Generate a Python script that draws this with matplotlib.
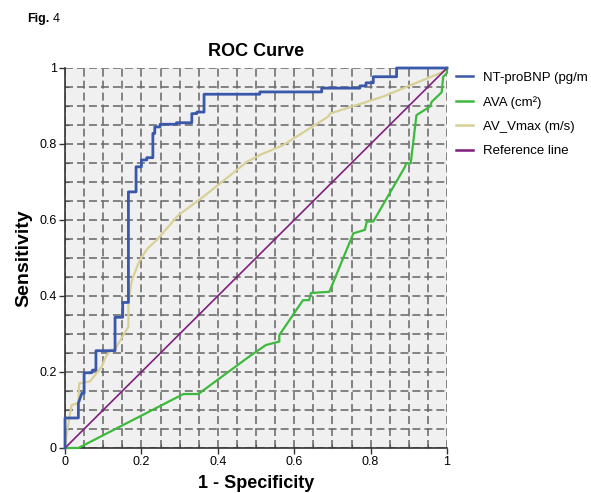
import matplotlib
matplotlib.use("Agg")
import matplotlib.pyplot as plt
import numpy as np

plt.rcParams['font.family'] = ['Liberation Sans', 'DejaVu Sans']

# NT-proBNP step curve
bnp_x = [0, 0, 0.035, 0.035, 0.044, 0.05, 0.05, 0.07, 0.072, 0.081, 0.081, 0.131, 0.131, 0.151, 0.151, 0.166, 0.166,
         0.186, 0.186, 0.2, 0.2, 0.214, 0.214, 0.23, 0.23, 0.235, 0.235, 0.249, 0.249, 0.292, 0.292, 0.332, 0.332,
         0.345, 0.345, 0.364, 0.364, 0.51, 0.51, 0.672, 0.672, 0.772, 0.772, 0.788, 0.788, 0.807, 0.807, 0.868, 0.868, 1.0]
bnp_y = [0, 0.079, 0.079, 0.118, 0.144, 0.144, 0.198, 0.198, 0.205, 0.205, 0.256, 0.256, 0.344, 0.344, 0.383, 0.383, 0.674,
         0.674, 0.74, 0.74, 0.758, 0.758, 0.764, 0.764, 0.828, 0.828, 0.845, 0.845, 0.852, 0.852, 0.856, 0.856, 0.88,
         0.88, 0.884, 0.884, 0.931, 0.931, 0.937, 0.937, 0.947, 0.947, 0.953, 0.953, 0.961, 0.961, 0.977, 0.977, 1.0, 1.0]

# AVA curve
ava_x = [0, 0.035, 0.31, 0.349, 0.484, 0.526, 0.561, 0.561, 0.623, 0.639, 0.644, 0.692, 0.737, 0.755, 0.785, 0.79,
         0.807, 0.89, 0.893, 0.905, 0.92, 0.955, 0.96, 0.986, 0.99, 1.0, 1.0]
ava_y = [0, 0, 0.142, 0.142, 0.242, 0.271, 0.28, 0.297, 0.389, 0.389, 0.408, 0.411, 0.521, 0.565, 0.574, 0.596,
         0.596, 0.74, 0.749, 0.749, 0.876, 0.898, 0.911, 0.936, 0.977, 0.987, 1.0]

# AV_Vmax curve
vmax_x = [0, 0.004, 0.017, 0.035, 0.037, 0.065, 0.096, 0.105, 0.118, 0.131, 0.148, 0.166, 0.166, 0.175, 0.196,
          0.216, 0.24, 0.297, 0.362, 0.423, 0.476, 0.51, 0.571, 0.689, 0.694, 0.833, 0.99, 1.0]
vmax_y = [0, 0.034, 0.113, 0.118, 0.17, 0.175, 0.214, 0.236, 0.258, 0.26, 0.289, 0.319, 0.385, 0.442, 0.495,
          0.525, 0.547, 0.613, 0.661, 0.71, 0.753, 0.771, 0.797, 0.872, 0.88, 0.925, 0.99, 1.0]

ref_x = [0, 1]
ref_y = [0, 1]

labels = ["NT-proBNP (pg/m", "AVA (cm\u00b2)", "AV_Vmax (m/s)", "Reference line"]
colors = ["#3a58aa", "#3dba3d", "#d8d096", "#7e1f7e"]

fig = plt.figure(figsize=(5.91, 4.93), dpi=100)
ax = fig.add_axes([65/591, 45/493, 382/591, 380/493])
ax.set_facecolor("#f0f0f0")

ax.set_xlim(0, 1)
ax.set_ylim(0, 1)
ticks = [0, 0.2, 0.4, 0.6, 0.8, 1.0]
ticklabels = ["0", "0.2", "0.4", "0.6", "0.8", "1"]
ax.set_xticks(ticks)
ax.set_xticklabels(ticklabels)
ax.set_yticks(ticks)
ax.set_yticklabels(ticklabels)
ax.set_xticks(np.arange(0, 1.0001, 0.05), minor=True)
ax.set_yticks(np.arange(0, 1.0001, 0.05), minor=True)
ax.grid(True, which='both', color='#6a6a6a', linestyle=(0, (5, 2.5)), linewidth=1.15)
ax.set_axisbelow(True)
ax.tick_params(which='major', direction='out', length=4, width=1, color='#333333', labelsize=9, pad=2)
ax.tick_params(which='minor', direction='in', length=3, width=0.8, color='#555555')

for s in ['top', 'right']:
    ax.spines[s].set_visible(False)
for s in ['left', 'bottom']:
    ax.spines[s].set_color('#333333')
    ax.spines[s].set_linewidth(1.2)

l1, = ax.plot(bnp_x, bnp_y, color=colors[0], lw=2.0, clip_on=False, zorder=5)
l2, = ax.plot(ava_x, ava_y, color=colors[1], lw=1.6, clip_on=False, zorder=4)
l3, = ax.plot(vmax_x, vmax_y, color=colors[2], lw=1.6, clip_on=False, zorder=3)
l4, = ax.plot(ref_x, ref_y, color=colors[3], lw=1.2, clip_on=False, zorder=4)

leg = ax.legend([l1, l2, l3, l4], labels, loc='upper left', bbox_to_anchor=(1.0, 1.015),
                frameon=False, fontsize=9.5, handlelength=1.3, handletextpad=0.7,
                labelspacing=0.92, borderaxespad=0.3)
for h in leg.legend_handles:
    h.set_linewidth(1.8)

ax.set_title("ROC Curve", fontsize=13, fontweight='bold', pad=9)
ax.set_xlabel("1 - Specificity", fontsize=13, fontweight='bold', labelpad=5)
ax.set_ylabel("Sensitivity", fontsize=14, fontweight='bold', labelpad=5)

fig.text(27/591, 1 - 19/493, "Fig.", fontsize=9, fontweight='bold', va='center', ha='left')
fig.text(53/591, 1 - 19/493, "4", fontsize=9, va='center', ha='left')

fig.savefig("out.png", dpi=100)
